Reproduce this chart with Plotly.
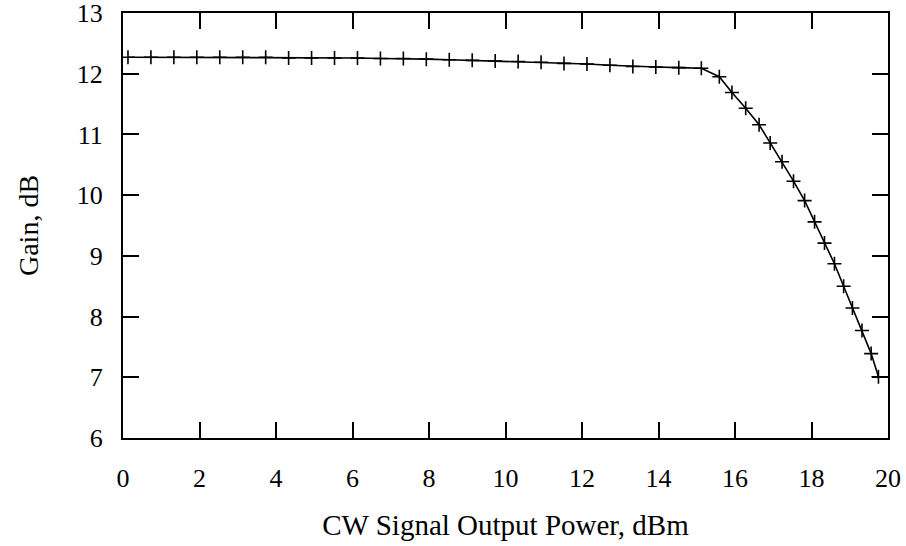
import plotly.graph_objects as go

# CW signal output power (dBm) and gain (dB)
power_dbm = [
    0.13, 0.73, 1.33, 1.93, 2.53, 3.13, 3.73, 4.33, 4.93, 5.53,
    6.13, 6.73, 7.33, 7.93, 8.53, 9.13, 9.73, 10.33, 10.93, 11.53,
    12.13, 12.73, 13.33, 13.93, 14.53, 15.12,
    15.59, 15.92, 16.28, 16.63, 16.92, 17.23, 17.53, 17.82, 18.08,
    18.34, 18.60, 18.84, 19.07, 19.32, 19.56, 19.75,
]
gain_db = [
    12.27, 12.27, 12.27, 12.27, 12.27, 12.27, 12.27, 12.26, 12.26, 12.26,
    12.26, 12.25, 12.25, 12.24, 12.23, 12.22, 12.21, 12.20, 12.19, 12.17,
    12.16, 12.14, 12.12, 12.11, 12.10, 12.09,
    11.95, 11.69, 11.43, 11.16, 10.86, 10.55, 10.23, 9.91, 9.56,
    9.21, 8.87, 8.50, 8.14, 7.77, 7.39, 7.01,
]

x_ticks = [0, 2, 4, 6, 8, 10, 12, 14, 16, 18, 20]
y_ticks = [6, 7, 8, 9, 10, 11, 12, 13]

FONT = "Liberation Serif"

fig = go.Figure()
fig.add_trace(go.Scatter(
    x=power_dbm, y=gain_db,
    mode="lines+markers",
    line=dict(color="black", width=1.6),
    marker=dict(symbol="cross-thin", size=10, line=dict(color="black", width=1.6)),
    showlegend=False,
))

fig.update_layout(
    width=906, height=546,
    margin=dict(l=123, r=18, t=13, b=108),
    paper_bgcolor="white", plot_bgcolor="white",
    font=dict(family=FONT, color="black", size=25),
)

fig.update_xaxes(
    range=[0, 20], tickvals=x_ticks, ticktext=[str(v) for v in x_ticks],
    automargin=False, ticklabeloverflow="allow",
    showgrid=False, zeroline=False,
    showline=True, linecolor="black", linewidth=2, mirror="ticks",
    ticks="inside", ticklen=16, tickwidth=2, tickcolor="black",
    ticklabelstandoff=16,
    tickfont=dict(family=FONT, size=26),
    title=dict(text="CW Signal Output Power, dBm", font=dict(family=FONT, size=29), standoff=22),
)
fig.update_yaxes(
    range=[6, 13], tickvals=y_ticks, ticktext=[str(v) for v in y_ticks],
    automargin=False, ticklabeloverflow="allow",
    showgrid=False, zeroline=False,
    showline=True, linecolor="black", linewidth=2, mirror="ticks",
    ticks="inside", ticklen=16, tickwidth=2, tickcolor="black",
    ticklabelstandoff=13,
    tickfont=dict(family=FONT, size=26),
    title=dict(text="Gain, dB", font=dict(family=FONT, size=28), standoff=30),
)

fig.write_html(
    "out.html",
    config={"displayModeBar": False},
    post_script="document.body.style.margin='0';document.body.style.overflow='hidden';",
)
